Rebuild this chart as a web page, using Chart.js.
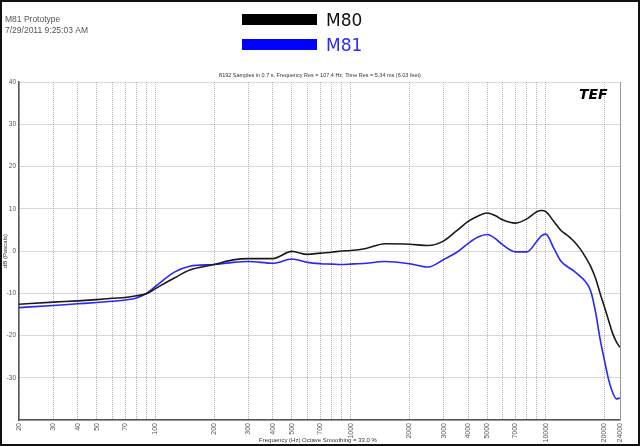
<!DOCTYPE html>
<html>
<head>
<meta charset="utf-8">
<script src="https://cdn.jsdelivr.net/npm/chart.js@4/dist/chart.umd.min.js"></script>
<style>
html, body { margin: 0; padding: 0; background: #fff; }
</style>
</head>
<body>
<canvas id="chart" width="640" height="446"></canvas>
<script>
"use strict"

// frequency points (Hz) shared by both curves
const freqs = [20, 30, 40, 50, 60, 70, 80, 90, 100, 125, 150, 200, 250, 300, 400, 500, 600, 700, 800, 900,
    1000, 1200, 1500, 2000, 2500, 3000, 3500, 4000, 4500, 5000, 5500, 6000, 7000, 8000, 9000, 9500, 10000,
    11000, 12000, 13000, 14000, 15000, 16000, 17000, 18000, 19000, 20000, 21000, 22000, 23000, 24000];

// dB (Pascals)
const m80 = [-12.6, -12.1, -11.8, -11.5, -11.2, -11.0, -10.6, -10.1, -8.9, -6.4, -4.5, -3.2, -2.1, -1.8, -1.8, -0.1, -0.8, -0.5, -0.3, 0.0,
    0.1, 0.6, 1.7, 1.6, 1.3, 2.4, 4.8, 7.0, 8.3, 9.0, 8.4, 7.4, 6.6, 7.6, 9.3, 9.6, 9.3,
    7.0, 4.8, 3.6, 2.2, 0.5, -1.5, -3.7, -6.5, -10.1, -13.3, -16.5, -19.5, -21.5, -22.8];

const m81 = [-13.4, -12.9, -12.5, -12.2, -11.9, -11.6, -11.1, -10.0, -8.4, -5.0, -3.6, -3.2, -2.7, -2.5, -2.9, -1.9, -2.7, -3.0, -3.1, -3.2,
    -3.1, -2.9, -2.5, -3.0, -3.8, -2.0, -0.3, 1.8, 3.3, 3.9, 3.0, 1.5, -0.2, -0.2, 2.3, 3.6, 4.0,
    0.6, -2.5, -3.8, -4.8, -6.0, -7.3, -9.5, -14.5, -21.0, -26.0, -30.5, -33.5, -35.0, -34.8];

// grid lines and labelled ticks on the frequency axis
const gridFreqs = [20, 30, 40, 50, 60, 70, 80, 90, 100, 200, 300, 400, 500, 600, 700, 800, 900,
    1000, 2000, 3000, 4000, 5000, 6000, 7000, 8000, 9000, 10000, 20000, 24000];
const labeledFreqs = [20, 30, 40, 50, 70, 100, 200, 300, 400, 500, 700, 1000, 2000, 3000, 4000, 5000, 7000, 10000, 20000, 24000];

const dbMin = -40;
const dbMax = 40;
const dbStep = 10;

const headerLines = ["M81 Prototype", "7/29/2011 9:25:03 AM"];
const subTitle = "8192 Samples in 0.7 s, Frequency Res = 107.4 Hz, Time Res = 5.34 ms (6.03 feet)";
const xTitle = "Frequency (Hz) Octave Smoothing = 33.0 %";
const yTitle = "dB (Pascals)";

const toPoints = function (vals) {
    return freqs.map((f, i) => ({ x: f, y: vals[i] }));
};

// extra drawing: frame, header, legend, titles, logo
const decorations = {
    id: "decorations",
    afterDraw(chart) {
        const ctx = chart.ctx;
        const area = chart.chartArea;
        ctx.save();

        // right border of the plot
        ctx.strokeStyle = "#999";
        ctx.lineWidth = 1;
        ctx.beginPath();
        ctx.moveTo(area.right + 0.5, area.top);
        ctx.lineTo(area.right + 0.5, area.bottom);
        ctx.stroke();

        // outer frame
        ctx.strokeStyle = "#111";
        ctx.lineWidth = 2;
        ctx.strokeRect(1, 1, 638, 444);

        // header
        ctx.fillStyle = "#555";
        ctx.font = "8.5px 'Liberation Sans'";
        ctx.textBaseline = "alphabetic";
        ctx.textAlign = "left";
        ctx.fillText(headerLines[0], 5, 22);
        ctx.fillText(headerLines[1], 5, 33);

        // legend
        const legendItems = [
            { label: chart.data.datasets[0].label, color: "#000", text: "#111", y: 14 },
            { label: chart.data.datasets[1].label, color: "#0000ff", text: "#2a2aff", y: 39 }
        ];
        legendItems.forEach(it => {
            ctx.fillStyle = it.color;
            ctx.fillRect(242, it.y, 75, 11);
            ctx.fillStyle = it.text;
            ctx.font = "17px 'DejaVu Sans'";
            ctx.fillText(it.label, 326, it.y + 12);
        });

        // subtitle
        ctx.fillStyle = "#333";
        ctx.font = "5.5px 'Liberation Sans'";
        ctx.textAlign = "center";
        ctx.fillText(subTitle, 320, 77);

        // x title
        ctx.font = "6px 'Liberation Sans'";
        ctx.fillText(xTitle, 318, 442);

        // y title
        ctx.save();
        ctx.translate(7, 251);
        ctx.rotate(-Math.PI / 2);
        ctx.fillText(yTitle, 0, 0);
        ctx.restore();

        // TEF logo
        ctx.fillStyle = "#000";
        ctx.font = "italic bold 14px 'DejaVu Sans'";
        ctx.textAlign = "left";
        ctx.fillText("TEF", 579, 99);

        ctx.restore();
    }
};

const chart = new Chart(document.getElementById("chart"), {
    type: "line",
    data: {
        datasets: [{
            label: "M80",
            data: toPoints(m80),
            borderColor: "#1a1a1a",
            borderWidth: 1.6,
            pointRadius: 0,
            cubicInterpolationMode: "monotone"
        }, {
            label: "M81",
            data: toPoints(m81),
            borderColor: "#2626ff",
            borderWidth: 1.6,
            pointRadius: 0,
            cubicInterpolationMode: "monotone"
        }]
    },
    options: {
        responsive: false,
        animation: false,
        devicePixelRatio: 1,
        layout: { padding: { left: 0, top: 82, right: 20, bottom: 0 } },
        plugins: {
            legend: { display: false },
            tooltip: { enabled: false }
        },
        scales: {
            x: {
                type: "logarithmic",
                min: 20,
                max: 24000,
                afterBuildTicks: function (scale) {
                    scale.ticks = gridFreqs.map(v => ({ value: v }));
                },
                afterFit: function (scale) {
                    scale.height = 26;
                },
                grid: { color: "#b3b3b3", lineWidth: 1, drawTicks: false },
                border: { display: true, color: "#555", width: 1.5, dash: [1, 1] },
                ticks: {
                    autoSkip: false,
                    minRotation: 90,
                    maxRotation: 90,
                    padding: 3,
                    color: "#555",
                    font: { family: "Liberation Sans", size: 7 },
                    callback: function (value) {
                        return labeledFreqs.includes(value) ? String(value) : "";
                    }
                }
            },
            y: {
                min: dbMin,
                max: dbMax,
                afterFit: function (scale) {
                    scale.width = 19;
                },
                grid: { color: "#b3b3b3", lineWidth: 1, drawTicks: false },
                border: { display: true, color: "#555", width: 1.5, dash: [1, 1] },
                ticks: {
                    stepSize: dbStep,
                    padding: 3,
                    color: "#555",
                    font: { family: "Liberation Sans", size: 6.5 },
                    callback: function (value) {
                        return value === dbMin ? "" : String(value);
                    }
                }
            }
        }
    },
    plugins: [decorations]
});
</script>
</body>
</html>
